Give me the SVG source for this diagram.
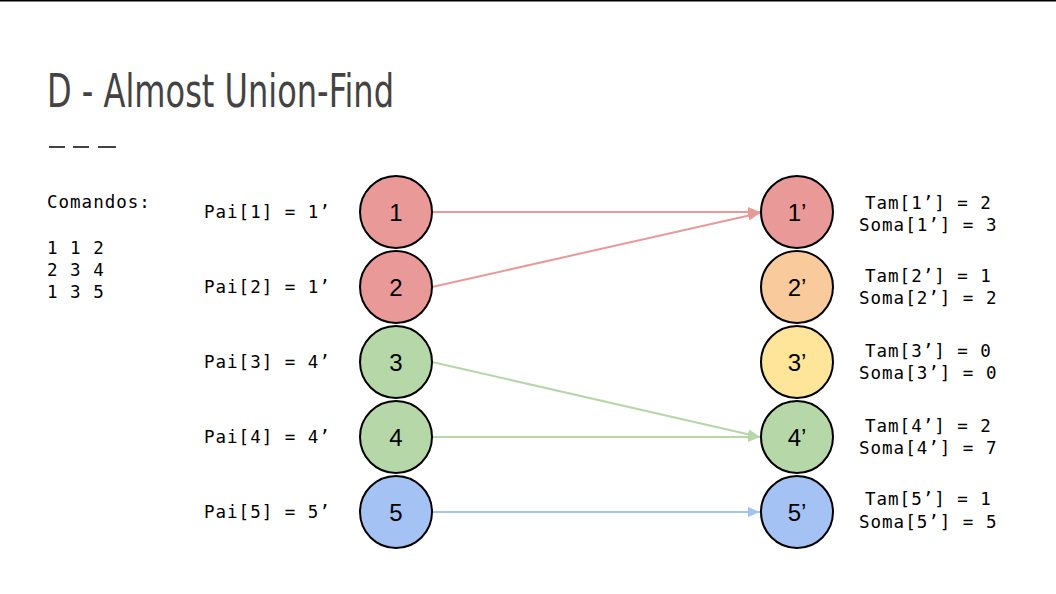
<svg xmlns="http://www.w3.org/2000/svg" width="1056" height="594" viewBox="0 0 1056 594">
<style>
.mono{font-family:"DejaVu Sans Mono","Liberation Mono",monospace;font-size:17.5px;letter-spacing:1px;fill:#000}
.num{font-family:"Liberation Sans",Arial,sans-serif;font-size:24px;fill:#000;text-anchor:middle}
.node{stroke:#000;stroke-width:2}
.title{font-family:"Liberation Sans Narrow","DejaVu Sans Condensed",sans-serif;font-size:46px;fill:#434343}
</style>
<defs>
<marker id="ar" viewBox="0 0 12 10" refX="12" refY="5" markerWidth="12" markerHeight="10" markerUnits="userSpaceOnUse" orient="auto"><path d="M0,0L12,5L0,10z" fill="#ea9999"/></marker>
<marker id="ag" viewBox="0 0 12 10" refX="12" refY="5" markerWidth="12" markerHeight="10" markerUnits="userSpaceOnUse" orient="auto"><path d="M0,0L12,5L0,10z" fill="#b6d7a8"/></marker>
<marker id="ab" viewBox="0 0 12 10" refX="12" refY="5" markerWidth="12" markerHeight="10" markerUnits="userSpaceOnUse" orient="auto"><path d="M0,0L12,5L0,10z" fill="#a4c2f4"/></marker>
</defs>
<rect width="1056" height="594" fill="#fff"/>
<line x1="0" y1="0.5" x2="1056" y2="0.5" stroke="#000" stroke-width="2"/>
<text class="title" x="47" y="107" textLength="347" lengthAdjust="spacingAndGlyphs">D - Almost Union-Find</text>
<g stroke="#434343" stroke-width="2">
<line x1="49" y1="147" x2="65" y2="147"/>
<line x1="73" y1="147" x2="89" y2="147"/>
<line x1="98" y1="147" x2="116" y2="147"/>
</g>
<g id="commands" class="mono">
<text x="47" y="208">Comandos:</text>
<text x="47" y="254">1 1 2</text>
<text x="47" y="276">2 3 4</text>
<text x="47" y="298">1 3 5</text>
</g>
<g id="connectors" stroke-width="2" fill="none">
<line x1="432" y1="212" x2="760" y2="212" stroke="#ea9999" marker-end="url(#ar)"/>
<line x1="432" y1="287" x2="760" y2="213" stroke="#ea9999" marker-end="url(#ar)"/>
<line x1="432" y1="362" x2="760" y2="437" stroke="#b6d7a8" marker-end="url(#ag)"/>
<line x1="432" y1="437" x2="760" y2="437" stroke="#b6d7a8" marker-end="url(#ag)"/>
<line x1="432" y1="512" x2="760" y2="512" stroke="#a4c2f4" marker-end="url(#ab)"/>
</g>
<g id="n1"><text class="mono" x="204" y="218">Pai[1] = 1’</text><circle class="node" cx="396" cy="212" r="36" fill="#ea9999"/><text class="num" x="396" y="221">1</text></g>
<g id="n2"><text class="mono" x="204" y="293">Pai[2] = 1’</text><circle class="node" cx="396" cy="287" r="36" fill="#ea9999"/><text class="num" x="396" y="296">2</text></g>
<g id="n3"><text class="mono" x="204" y="368">Pai[3] = 4’</text><circle class="node" cx="396" cy="362" r="36" fill="#b6d7a8"/><text class="num" x="396" y="371">3</text></g>
<g id="n4"><text class="mono" x="204" y="443">Pai[4] = 4’</text><circle class="node" cx="396" cy="437" r="36" fill="#b6d7a8"/><text class="num" x="396" y="446">4</text></g>
<g id="n5"><text class="mono" x="204" y="518">Pai[5] = 5’</text><circle class="node" cx="396" cy="512" r="36" fill="#a4c2f4"/><text class="num" x="396" y="521">5</text></g>
<g id="r1"><circle class="node" cx="797" cy="212" r="36" fill="#ea9999"/><text class="num" x="797" y="221">1’</text><text class="mono" x="865" y="209">Tam[1’] = 2</text><text class="mono" x="859" y="231">Soma[1’] = 3</text></g>
<g id="r2"><circle class="node" cx="797" cy="287" r="36" fill="#f9cb9c"/><text class="num" x="797" y="296">2’</text><text class="mono" x="865" y="282">Tam[2’] = 1</text><text class="mono" x="859" y="304">Soma[2’] = 2</text></g>
<g id="r3"><circle class="node" cx="797" cy="362" r="36" fill="#ffe599"/><text class="num" x="797" y="371">3’</text><text class="mono" x="865" y="357">Tam[3’] = 0</text><text class="mono" x="859" y="379">Soma[3’] = 0</text></g>
<g id="r4"><circle class="node" cx="797" cy="437" r="36" fill="#b6d7a8"/><text class="num" x="797" y="446">4’</text><text class="mono" x="865" y="432">Tam[4’] = 2</text><text class="mono" x="859" y="454">Soma[4’] = 7</text></g>
<g id="r5"><circle class="node" cx="797" cy="512" r="36" fill="#a4c2f4"/><text class="num" x="797" y="521">5’</text><text class="mono" x="865" y="505">Tam[5’] = 1</text><text class="mono" x="859" y="528">Soma[5’] = 5</text></g>
</svg>
